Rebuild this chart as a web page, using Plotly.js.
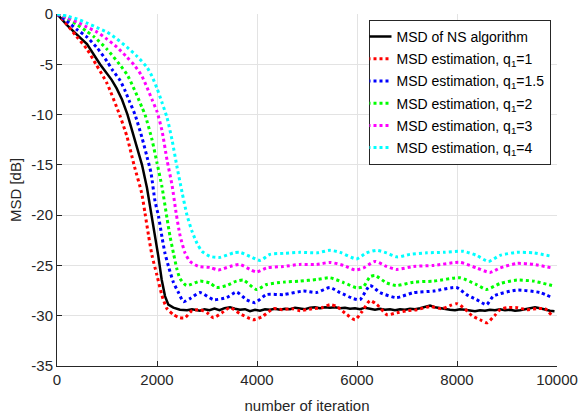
<!DOCTYPE html>
<html>
<head>
<meta charset="utf-8">
<script src="https://cdn.plot.ly/plotly-3.0.1.min.js"></script>
<style>html,body{margin:0;padding:0;background:#fff;}#chart{width:579px;height:417px;}</style>
</head>
<body>
<div id="chart"></div>
<script>
// ---- data (iteration, MSD in dB) ----
const seriesNames = [
  'MSD of NS algorithm',
  'MSD estimation, q<sub>1</sub>=1',
  'MSD estimation, q<sub>1</sub>=1.5',
  'MSD estimation, q<sub>1</sub>=2',
  'MSD estimation, q<sub>1</sub>=3',
  'MSD estimation, q<sub>1</sub>=4'
];

const nsX = [0,200,440,600,860,1093,1193,1300,1410,1550,1700,1800,1893,1960,2027,2093,2160,2227,2327,2460,2600,2700,2860,2950,3050,3150,3250,3350,3460,3560,3660,3760,3860,3960,4060,4160,4260,4360,4460,4560,4660,4760,4860,4960,5060,5160,5260,5360,5460,5560,5660,5760,5860,5960,6060,6160,6260,6360,6460,6560,6660,6760,6860,6960,7060,7160,7260,7360,7460,7560,7660,7760,7860,7960,8060,8160,8260,8360,8460,8560,8660,8760,8860,8960,9060,9160,9260,9360,9460,9560,9660,9760,9860,9950];
const nsY = [0,-1.1,-2.25,-3.0,-5.0,-6.55,-7.4,-8.5,-10.0,-12.3,-15.0,-17.3,-20.0,-22.1,-24.1,-26.4,-28.05,-28.9,-29.2,-29.4,-29.45,-29.35,-29.5,-29.35,-29.45,-29.3,-29.45,-29.25,-29.15,-29.3,-29.4,-29.35,-29.55,-29.4,-29.5,-29.35,-29.4,-29.3,-29.4,-29.3,-29.35,-29.2,-29.25,-29.35,-29.2,-29.15,-29.25,-29.15,-29.2,-29.15,-29.25,-29.2,-29.3,-29.25,-29.35,-29.2,-29.3,-29.4,-29.3,-29.4,-29.35,-29.45,-29.35,-29.4,-29.3,-29.35,-29.25,-29.1,-29.0,-29.15,-29.25,-29.3,-29.4,-29.45,-29.35,-29.4,-29.5,-29.55,-29.45,-29.5,-29.4,-29.45,-29.35,-29.45,-29.4,-29.5,-29.45,-29.35,-29.25,-29.15,-29.25,-29.4,-29.5,-29.55];

const q1X = [0,100,393,600,780,1000,1250,1400,1540,1693,1760,1830,1900,2000,2100,2200,2330,2460,2560,2700,2860,3000,3130,3300,3460,3660,3860,3930,4100,4330,4500,4700,4860,5100,5300,5460,5600,5800,5960,6100,6260,6400,6600,6800,7000,7200,7460,7700,7860,8000,8150,8300,8460,8600,8750,8860,9000,9200,9400,9600,9760,9900];
const q1Y = [0,-0.45,-2.25,-3.5,-5.0,-6.9,-10.0,-12.2,-15.0,-17.8,-19.8,-22.0,-24.0,-26.0,-28.0,-29.3,-29.9,-30.2,-30.2,-29.5,-29.4,-29.7,-30.2,-29.7,-29.2,-29.8,-30.3,-30.4,-30.1,-29.3,-29.4,-29.3,-29.5,-29.3,-29.2,-28.9,-29.1,-29.9,-30.4,-29.6,-28.5,-28.9,-29.9,-29.7,-29.5,-29.4,-29.1,-29.3,-29.0,-28.8,-29.3,-30.0,-30.4,-30.7,-30.0,-29.4,-29.2,-29.2,-29.4,-29.3,-29.3,-30.0];

const q15X = [0,200,400,600,800,1000,1100,1260,1350,1450,1560,1700,1800,1880,1960,2030,2100,2160,2230,2330,2430,2530,2660,2860,3130,3390,3590,3790,3960,4190,4530,4930,5190,5460,5660,5930,6060,6260,6460,6790,7130,7530,7990,8190,8390,8590,8730,9200,9660,9900];
const q15Y = [0,-0.7,-1.55,-2.3,-3.35,-4.7,-5.5,-6.6,-7.5,-8.7,-10.0,-12.3,-14.2,-15.8,-18.6,-20.1,-22.2,-23.8,-25.1,-26.7,-27.7,-28.6,-28.3,-27.7,-28.4,-28.2,-27.65,-28.4,-28.7,-27.9,-27.9,-27.55,-27.7,-27.2,-27.7,-28.3,-28.4,-27.0,-27.7,-28.2,-27.7,-27.55,-27.2,-27.9,-28.4,-28.9,-28.05,-27.45,-27.7,-28.2];

const q2X = [0,200,400,600,750,1000,1250,1400,1500,1600,1700,1760,1900,2000,2100,2200,2260,2330,2400,2460,2590,2860,3060,3190,3390,3590,3730,3990,4190,4530,4860,5190,5460,5730,5990,6130,6260,6360,6590,6790,7130,7530,8060,8390,8590,8860,9200,9530,9900];
const q2Y = [0,-0.4,-1.05,-1.75,-2.3,-3.5,-5.0,-6.0,-7.0,-8.1,-9.3,-10.0,-12.5,-14.8,-17.2,-20.3,-22.1,-23.8,-25.4,-26.3,-27.0,-26.56,-26.75,-27.2,-27.0,-26.56,-26.46,-27.4,-26.9,-26.66,-26.56,-26.4,-26.23,-26.7,-27.22,-27.1,-26.13,-26.0,-26.73,-27.0,-26.66,-26.56,-26.23,-26.9,-27.39,-26.8,-26.46,-26.56,-27.0];

const q3X = [0,200,400,600,800,1000,1200,1400,1550,1700,1800,1900,2000,2100,2200,2300,2380,2460,2560,2660,2830,3060,3230,3460,3660,3860,3990,4190,4530,4860,5190,5460,5730,5960,6130,6360,6590,6790,7130,7530,8060,8390,8660,8860,9200,9530,9900];
const q3Y = [0,-0.35,-0.8,-1.3,-1.8,-2.5,-3.3,-4.3,-5.1,-6.2,-7.3,-8.5,-9.7,-11.6,-14.5,-17.0,-19.7,-22.0,-23.75,-24.6,-25.1,-25.2,-25.45,-25.1,-24.9,-25.4,-25.65,-25.25,-25.1,-24.9,-24.9,-24.7,-25.0,-25.45,-25.25,-24.6,-25.1,-25.4,-25.1,-25.0,-24.7,-25.25,-25.7,-25.25,-24.8,-24.9,-25.25];

const q4X = [0,200,400,600,800,1000,1200,1400,1600,1800,1900,2000,2100,2200,2300,2400,2500,2600,2700,2800,2900,3060,3260,3530,3660,3860,4060,4260,4530,4860,5200,5460,5660,5990,6190,6390,6590,6800,7060,7400,7730,8130,8390,8630,8860,9200,9530,9900];
const q4Y = [0,-0.2,-0.5,-0.9,-1.35,-1.8,-2.5,-3.3,-4.2,-5.3,-6.2,-7.4,-8.8,-10.3,-12.5,-15.2,-17.7,-20.0,-21.6,-22.8,-23.6,-24.1,-24.2,-23.75,-23.7,-24.1,-24.5,-23.9,-23.8,-23.7,-23.75,-23.5,-23.7,-24.35,-23.75,-23.5,-23.75,-24.15,-23.9,-23.75,-23.7,-23.6,-24.0,-24.6,-24.0,-23.7,-23.75,-24.1];

const xTickVals = [0,2000,4000,6000,8000,10000];
const xTickText = ['0','2000','4000','6000','8000','10000'];
const yTickVals = [0,-5,-10,-15,-20,-25,-30,-35];
const yTickText = ['0','-5','-10','-15','-20','-25','-30','-35'];

const seriesColors = ['#000000','#ff0000','#0000ff','#00ff00','#ff00ff','#00ffff'];
const xs = [nsX,q1X,q15X,q2X,q3X,q4X];
const ys = [nsY,q1Y,q15Y,q2Y,q3Y,q4Y];

const traces = xs.map((x,i)=>({
  x: x, y: ys[i], type:'scatter', mode:'lines', name: seriesNames[i],
  legendgroup: 'g'+i,
  line: i===0 ? {color: seriesColors[i], width: 2.5} :
                {color: seriesColors[i], width: 3, dash: '3px,3px', shape:'spline', smoothing:0.6}
}));

const axisFont = {family:'"Liberation Sans", Arial, sans-serif', size:15, color:'#262626'};
const layout = {
  width:579, height:417,
  margin:{l:57, r:22, t:14, b:51},
  paper_bgcolor:'#ffffff', plot_bgcolor:'#ffffff',
  font: axisFont,
  showlegend:true,
  legend:{
    x:0.987, xanchor:'right', y:0.983, yanchor:'top',
    bgcolor:'#ffffff', bordercolor:'#262626', borderwidth:1,
    font:{family:'"Liberation Sans", Arial, sans-serif', size:14, color:'#000000'},
    itemwidth:30, tracegroupgap:1, indentation:-13
  },
  xaxis:{
    range:[0,10000], tickvals:xTickVals, ticktext:xTickText,
    showgrid:true, gridcolor:'#e3e3e3', gridwidth:1,
    zeroline:false, showline:true, linecolor:'#262626', linewidth:1,
    ticks:'inside', ticklen:5, tickcolor:'#262626',
    tickfont:axisFont,
    title:{text:'number of iteration', font:axisFont, standoff:13}
  },
  yaxis:{
    range:[-35,0], tickvals:yTickVals, ticktext:yTickText,
    showgrid:true, gridcolor:'#e3e3e3', gridwidth:1,
    zeroline:false, showline:true, linecolor:'#262626', linewidth:1,
    ticks:'inside', ticklen:5, tickcolor:'#262626',
    tickfont:axisFont,
    title:{text:'MSD [dB]', font:axisFont, standoff:6}
  }
};
Plotly.newPlot('chart', traces, layout, {staticPlot:true, displayModeBar:false});
</script>
</body>
</html>
